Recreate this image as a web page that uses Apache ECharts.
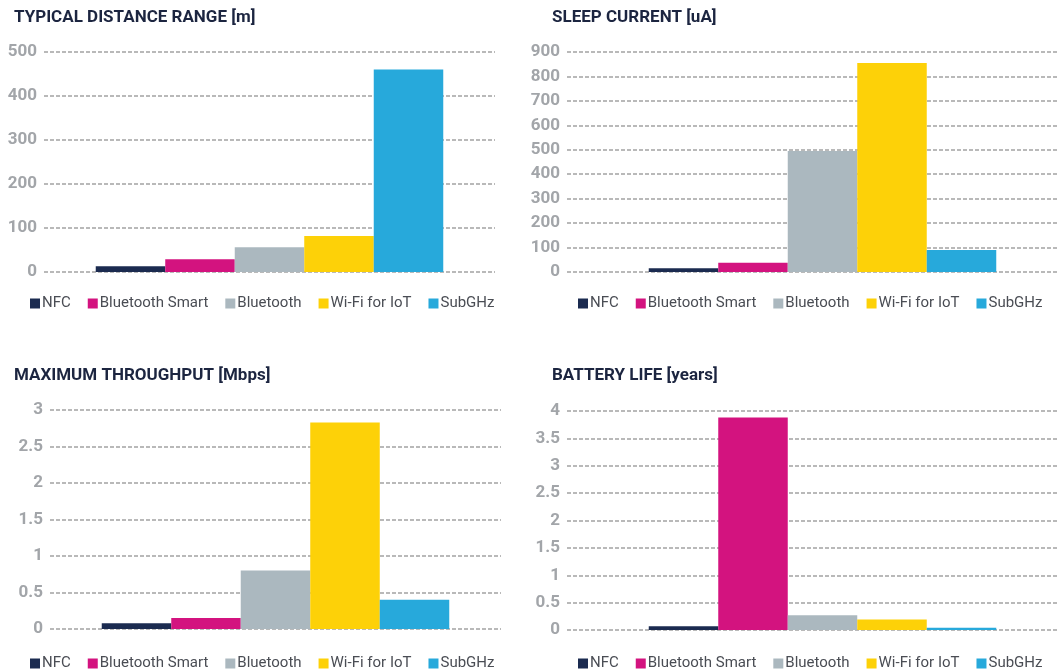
<!DOCTYPE html>
<html>
<head>
<meta charset="utf-8">
<script src="https://cdn.jsdelivr.net/npm/echarts@6/dist/echarts.min.js"></script>
<style>
  html, body { margin: 0; padding: 0; background: #fff; overflow: hidden; }
  #main { width: 1080px; height: 672px; }
</style>
</head>
<body>
<div id="main"></div>
<script>
// 技术名称 (每个图里的 5 个柱子)
var techNames = ['NFC', 'Bluetooth Smart', 'Bluetooth', 'Wi-Fi for IoT', 'SubGHz'];
var techColors = ['#1b2b50', '#d3137f', '#abb8bf', '#fdd108', '#27a9db'];

// 四个图的数据
var distance = [13, 29, 56, 82, 460];          // TYPICAL DISTANCE RANGE [m]
var sleepCurrent = [15, 38, 495, 855, 90];     // SLEEP CURRENT [uA]
var throughput = [0.08, 0.15, 0.8, 2.83, 0.4]; // MAXIMUM THROUGHPUT [Mbps]
var batteryLife = [0.07, 3.88, 0.27, 0.19, 0.04]; // BATTERY LIFE [years]

// y轴刻度
var distanceTicks = { max: 500, interval: 100 };
var sleepTicks = { max: 900, interval: 100 };
var throughputTicks = { max: 3, interval: 0.5 };
var batteryTicks = { max: 4, interval: 0.5 };

var titles = ['TYPICAL DISTANCE RANGE [m]', 'SLEEP CURRENT [uA]', 'MAXIMUM THROUGHPUT [Mbps]', 'BATTERY LIFE [years]'];

var FONT = 'Roboto, "Liberation Sans", sans-serif';

var myChart = echarts.init(document.getElementById('main'));

// 每个小图的位置 (grid / 标题 / 图例)
var panels = [
  { data: distance, ticks: distanceTicks, grid: { left: 44, width: 451, top: 52, height: 220 }, title: [9, 4], legend: [25, 291] },
  { data: sleepCurrent, ticks: sleepTicks, grid: { left: 567, width: 511, top: 52, height: 220 }, title: [547, 4], legend: [573, 291] },
  { data: throughput, ticks: throughputTicks, grid: { left: 50, width: 451, top: 410, height: 219 }, title: [9, 362], legend: [25, 651] },
  { data: batteryLife, ticks: batteryTicks, grid: { left: 567, width: 511, top: 411, height: 219 }, title: [547, 362], legend: [573, 651] }
];

var option = {
  animation: false,
  title: [],
  legend: [],
  grid: [],
  xAxis: [],
  yAxis: [],
  series: []
};

panels.forEach(function (p, i) {
  option.title.push({
    text: titles[i],
    left: p.title[0],
    top: p.title[1],
    textStyle: { fontFamily: FONT, fontSize: 17, fontWeight: 'bold', color: '#1c2540' }
  });
  option.legend.push({
    data: techNames,
    left: p.legend[0],
    top: p.legend[1],
    width: 600,
    icon: 'rect',
    itemWidth: 10,
    itemHeight: 10,
    itemGap: 17,
    selectedMode: false,
    textStyle: { fontFamily: FONT, fontSize: 15, color: '#4a4d54', padding: [0, 0, 0, -3] }
  });
  option.grid.push(p.grid);
  option.xAxis.push({
    gridIndex: i,
    type: 'category',
    data: [''],
    axisLine: { show: false },
    axisTick: { show: false },
    axisLabel: { show: false }
  });
  option.yAxis.push({
    gridIndex: i,
    type: 'value',
    min: 0,
    max: p.ticks.max,
    interval: p.ticks.interval,
    axisLine: { show: false },
    axisTick: { show: false },
    axisLabel: { fontFamily: FONT, fontSize: 17, fontWeight: 'bold', color: '#a2a5a9', margin: 7 },
    splitLine: { lineStyle: { color: '#a3a3a3', width: 1.5, type: [4, 2] } }
  });
  techNames.forEach(function (name, k) {
    option.series.push({
      name: name,
      type: 'bar',
      xAxisIndex: i,
      yAxisIndex: i,
      barWidth: 69.5,
      barGap: '0%',
      itemStyle: { color: techColors[k] },
      data: [p.data[k]]
    });
  });
});

myChart.setOption(option);
</script>
</body>
</html>
